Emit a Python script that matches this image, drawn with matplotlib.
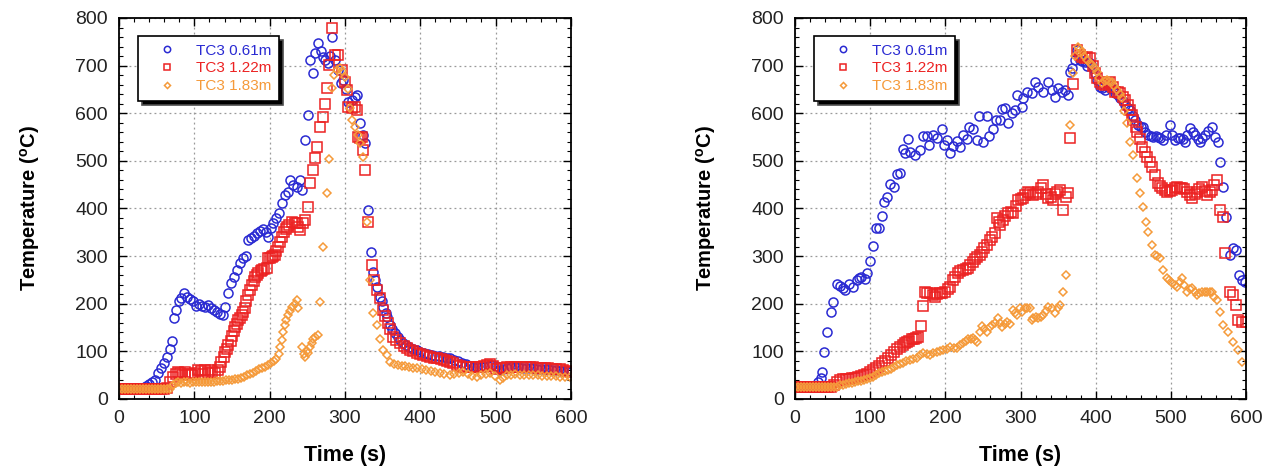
import matplotlib
matplotlib.use('Agg')
import matplotlib.pyplot as plt
from matplotlib.ticker import MultipleLocator

plt.rcParams['font.family'] = ['Liberation Sans', 'DejaVu Sans']

labels = ['TC3 0.61m', 'TC3 1.22m', 'TC3 1.83m']
colors = ['#2a2ad2', '#ec2222', '#f59a3a']
markers = ['o', 's', 'D']

# ---- left test ----
tA1 = [0, 4, 8, 12, 16, 20, 24, 28, 32, 36, 40, 44, 48, 52, 56, 60, 64, 67, 70, 73, 76, 79, 82, 86, 90,
       94, 98, 102, 106, 110, 114, 118, 122, 126, 130, 134, 138, 140, 144, 148, 152, 156, 160, 164, 168,
       171, 175, 179, 183, 187, 191, 195, 198, 202, 205, 209, 212, 216, 220, 224, 227, 231, 236, 240, 243,
       247, 251, 254, 257, 260, 264, 268, 271, 274, 277, 280, 283, 287, 291, 294, 297, 301, 304, 309, 313,
       316, 320, 324, 327, 331, 334, 337, 340, 342, 346, 349, 351, 354, 356, 360, 363, 366, 370, 373, 377,
       381, 385, 390, 395, 400, 405, 410, 415, 420, 425, 430, 435, 440, 445, 450, 455, 460, 465, 470, 475,
       480, 485, 490, 495, 500, 505, 510, 515, 520, 525, 530, 535, 540, 545, 550, 555, 560, 565, 570, 575,
       580, 585, 590, 595, 600]
TA1 = [22, 22, 22, 22, 22, 22, 23, 23, 24, 27, 32, 36, 40, 54, 65, 75, 89, 105, 122, 170, 187, 205, 212, 222, 215,
       210, 205, 195, 200, 196, 193, 198, 191, 187, 182, 178, 176, 193, 222, 243, 257, 271, 285, 296, 300,
       333, 338, 342, 348, 352, 357, 350, 340, 360, 370, 380, 391, 411, 428, 435, 460, 449, 445, 460, 439,
       544, 596, 712, 685, 726, 748, 730, 719, 712, 705, 720, 760, 712, 690, 663, 670, 650, 624, 628, 634,
       638, 580, 554, 538, 397, 309, 267, 250, 235, 214, 205, 193, 180, 172, 155, 146, 138, 130, 124, 118,
       113, 109, 105, 102, 99, 97, 95, 93, 91, 90, 89, 87, 86, 82, 79, 76, 73, 70, 68, 67,
       67, 68, 70, 72, 69, 61, 64, 66, 67, 67, 67, 66, 66, 65, 65, 64, 63, 62, 62, 61,
       60, 59, 58, 58, 57]

tA2 = [0, 4, 8, 12, 16, 20, 24, 28, 32, 36, 40, 44, 48, 52, 56, 60, 64, 68, 72, 75, 78, 81, 84, 88, 91,
       94, 97, 101, 105, 109, 112, 114, 118, 121, 123, 127, 131, 134, 136, 139, 141, 143, 145, 148, 150,
       152, 154, 156, 158, 161, 163, 165, 167, 169, 171, 174, 177, 179, 181, 183, 185, 188, 190, 193, 196,
       198, 201, 203, 205, 207, 209, 211, 214, 216, 219, 221, 223, 226, 230, 233, 236, 238, 240, 244, 247,
       251, 254, 257, 260, 263, 267, 271, 274, 276, 279, 283, 287, 291, 296, 300, 303, 304, 309, 313, 316,
       317, 320, 323, 324, 327, 331, 336, 339, 342, 346, 350, 353, 357, 360, 364, 368, 373, 378, 382, 386,
       390, 395, 400, 404, 409, 413, 418, 422, 427, 431, 435, 439, 444, 448, 452, 457, 461, 466, 470, 475,
       480, 484, 488, 493, 497, 501, 506, 510, 515, 520, 525, 530, 535, 540, 545, 550, 555, 560, 565, 570,
       575, 580, 585, 590, 595, 600]
TA2 = [22, 22, 22, 22, 22, 22, 22, 22, 22, 22, 22, 22, 22, 22, 22, 22, 24, 35, 46, 52, 57, 55, 50, 57, 53,
       52, 50, 55, 61, 58, 52, 61, 55, 60, 57, 55, 60, 67, 78, 88, 99, 106, 113, 122, 132,
       142, 151, 158, 166, 170, 176, 183, 191, 205, 218, 228, 239, 248, 256, 260, 264, 268, 271, 273, 275,
       296, 297, 298, 300, 302, 310, 319, 330, 340, 350, 357, 361, 366, 372, 370, 369, 362, 355, 370, 376,
       403, 453, 480, 506, 529, 571, 592, 620, 653, 701, 779, 722, 722, 691, 665, 649, 613, 610, 613, 607,
       550, 548, 550, 523, 481, 372, 281, 250, 229, 212, 187, 175, 160, 148, 130, 124, 118, 112, 107, 103,
       100, 97, 94, 92, 90, 89, 87, 86, 84, 82, 80, 78, 75, 72, 70, 67, 67, 67, 67, 67,
       68, 70, 72, 73, 70, 63, 65, 66, 67, 67, 67, 67, 67, 67, 67, 67, 66, 66, 65, 65,
       64, 63, 62, 60, 58, 57]

tA3 = [0, 4, 8, 12, 16, 20, 24, 28, 32, 36, 40, 44, 48, 52, 56, 60, 64, 68, 72, 75, 78, 82, 86, 90, 94,
       98, 102, 106, 110, 114, 118, 122, 126, 130, 134, 138, 142, 146, 150, 154, 158, 162, 166, 170, 174,
       178, 182, 186, 190, 194, 198, 202, 206, 209, 212, 214, 216, 218, 220, 222, 224, 227, 230, 233, 236,
       238, 243, 245, 247, 249, 251, 254, 256, 258, 260, 264, 267, 271, 276, 279, 283, 286, 289, 293, 296,
       300, 304, 307, 309, 313, 317, 320, 324, 329, 333, 337, 342, 346, 351, 356, 360, 365, 370, 375, 380,
       385, 390, 396, 402, 408, 414, 420, 426, 432, 439, 445, 451, 457, 463, 469, 475, 481, 487, 493, 499,
       506, 510, 515, 520, 526, 532, 538, 544, 550, 556, 562, 568, 574, 580, 586, 592, 599]
TA3 = [22, 22, 22, 22, 22, 22, 22, 22, 22, 22, 22, 22, 22, 22, 22, 22, 22, 22, 30, 34, 35, 34, 35, 35, 34,
       35, 35, 36, 35, 36, 36, 36, 36, 37, 38, 38, 39, 40, 40, 42, 43, 45, 47, 50, 52,
       55, 58, 62, 65, 68, 71, 75, 80, 85, 95, 110, 124, 140, 155, 166, 176, 185, 193, 200, 208,
       191, 109, 95, 88, 100, 97, 110, 118, 125, 130, 135, 204, 319, 432, 503, 653, 680, 691, 695, 688,
       676, 650, 610, 586, 571, 555, 538, 508, 372, 250, 181, 155, 126, 103, 92, 78, 74, 72, 70, 69,
       67, 66, 65, 63, 61, 58, 57, 55, 53, 50, 52, 55, 57, 52, 48, 46, 50, 53, 55, 48,
       40, 45, 50, 51, 52, 51, 50, 50, 50, 50, 49, 49, 48, 48, 47, 47, 46]

# ---- right test ----
tB1 = [0, 4, 8, 12, 16, 20, 24, 28, 31, 34, 36, 39, 43, 48, 51, 56, 60, 64, 67, 72, 77, 82, 85, 88, 93,
       96, 100, 104, 108, 112, 116, 118, 122, 126, 132, 136, 140, 144, 146, 150, 153, 160, 166, 170, 176,
       178, 184, 189, 196, 198, 202, 206, 210, 216, 220, 223, 229, 231, 237, 242, 245, 250, 255, 258, 263,
       267, 273, 275, 279, 283, 289, 293, 295, 302, 303, 309, 315, 319, 323, 330, 337, 342, 346, 350, 355,
       359, 363, 366, 368, 372, 375, 379, 382, 386, 389, 392, 396, 399, 402, 406, 409, 412, 416, 419, 423,
       426, 429, 432, 436, 439, 443, 446, 449, 452, 456, 460, 463, 466, 470, 473, 476, 480, 483, 486, 490,
       494, 499, 502, 506, 509, 512, 516, 519, 522, 525, 529, 532, 536, 539, 542, 545, 550, 555, 559, 563,
       565, 569, 573, 578, 583, 587, 590, 594, 599]
TB1 = [25, 25, 25, 25, 25, 25, 25, 25, 36, 45, 57, 99, 141, 183, 204, 241, 237, 232, 229, 241, 235, 250, 253, 256, 252,
       265, 290, 321, 359, 359, 384, 414, 424, 451, 445, 472, 475, 525, 516, 546, 519, 512, 523, 552, 552,
       533, 554, 548, 567, 533, 544, 516, 531, 542, 529, 554, 546, 571, 567, 544, 594, 540, 594, 552, 567,
       586, 586, 609, 611, 580, 600, 607, 638, 613, 632, 645, 643, 666, 655, 645, 666, 649, 634, 653, 645,
       649, 638, 687, 695, 712, 733, 712, 710, 708, 700, 705, 695, 685, 670, 655, 652, 649, 655, 659, 650,
       643, 638, 632, 625, 617, 612, 607, 595, 586, 575, 572, 571, 560, 554, 552, 550, 552, 550, 547, 544,
       555, 575, 555, 544, 547, 548, 545, 540, 555, 569, 560, 554, 545, 540, 548, 554, 562, 571, 550, 540,
       498, 445, 382, 302, 317, 313, 260, 250, 246]

tB2 = [0, 4, 8, 12, 16, 20, 24, 28, 32, 36, 40, 44, 48, 52, 56, 60, 64, 68, 72, 76, 80, 84, 88, 92, 96,
       100, 104, 108, 112, 116, 120, 124, 128, 132, 136, 140, 143, 146, 149, 152, 155, 158, 161, 164, 168,
       170, 173, 176, 180, 183, 186, 189, 193, 196, 200, 203, 206, 210, 213, 217, 220, 223, 227, 230, 233,
       237, 240, 242, 246, 249, 252, 255, 259, 262, 266, 269, 271, 273, 277, 280, 283, 287, 290, 294, 297,
       300, 303, 306, 310, 313, 317, 320, 323, 327, 330, 334, 337, 340, 343, 346, 349, 353, 356, 360, 363,
       366, 370, 375, 379, 382, 386, 389, 392, 396, 399, 402, 406, 409, 412, 416, 419, 423, 426, 429, 432,
       436, 439, 443, 446, 448, 450, 453, 455, 459, 462, 465, 468, 472, 475, 479, 483, 486, 488, 492, 495,
       499, 502, 505, 508, 512, 515, 518, 521, 525, 528, 532, 535, 538, 541, 545, 548, 552, 555, 558, 561,
       565, 569, 572, 578, 583, 587, 589, 594, 600]
TB2 = [25, 25, 25, 25, 25, 25, 25, 25, 25, 25, 25, 25, 25, 30, 36, 40, 41, 42, 43, 44, 45, 46, 48, 50, 53,
       57, 61, 65, 70, 75, 80, 86, 92, 98, 104, 109, 114, 118, 120, 122, 125, 127, 128, 130, 153,
       195, 225, 222, 223, 218, 214, 220, 223, 222, 225, 230, 235, 250, 257, 264, 268, 271, 272, 275, 282,
       288, 293, 298, 303, 309, 316, 323, 334, 340, 348, 380, 372, 365, 376, 385, 390, 392, 390, 405, 418,
       420, 422, 428, 435, 432, 428, 430, 435, 442, 449, 430, 422, 425, 418, 430, 435, 439, 397, 425, 433,
       548, 661, 733, 722, 718, 716, 718, 716, 700, 685, 675, 666, 662, 659, 663, 666, 655, 645, 644, 643,
       635, 628, 618, 607, 597, 586, 572, 561, 545, 529, 518, 508, 497, 487, 470, 453, 447, 443, 438, 435,
       437, 439, 442, 445, 444, 443, 440, 435, 428, 422, 430, 435, 440, 445, 436, 428, 435, 439, 450, 460,
       397, 382, 307, 225, 218, 197, 166, 162, 162]

tB3 = [0, 4, 8, 12, 16, 20, 24, 28, 32, 36, 40, 44, 48, 52, 56, 60, 64, 68, 72, 76, 80, 84, 88, 92, 96,
       100, 104, 108, 112, 116, 120, 124, 128, 132, 136, 140, 144, 148, 153, 157, 162, 166, 170, 175, 180,
       184, 189, 193, 197, 202, 206, 211, 216, 220, 223, 227, 230, 234, 237, 240, 242, 246, 249, 252, 255,
       259, 262, 266, 270, 273, 275, 279, 282, 286, 290, 293, 295, 299, 302, 306, 309, 313, 315, 317, 320,
       323, 327, 330, 334, 337, 342, 346, 350, 353, 357, 361, 366, 370, 373, 376, 379, 382, 385, 388, 392,
       395, 399, 402, 405, 408, 412, 415, 418, 422, 425, 428, 432, 435, 438, 442, 446, 450, 455, 459, 463,
       467, 470, 475, 479, 482, 486, 490, 495, 498, 502, 505, 508, 512, 515, 518, 521, 525, 528, 532, 535,
       538, 541, 545, 548, 552, 555, 558, 561, 565, 569, 576, 583, 589, 594]
TB3 = [25, 25, 25, 25, 25, 25, 25, 25, 25, 25, 25, 25, 25, 25, 25, 29, 30, 31, 33, 34, 35, 37, 38, 40, 42,
       44, 47, 50, 54, 56, 58, 60, 63, 67, 71, 74, 76, 79, 82, 84, 86, 92, 97, 94, 92,
       96, 99, 101, 103, 106, 109, 108, 107, 113, 118, 122, 126, 127, 128, 124, 120, 140, 153, 147, 141,
       151, 155, 160, 170, 160, 151, 157, 162, 157, 187, 180, 176, 191, 182, 191, 191, 191, 166, 170, 172,
       170, 173, 176, 185, 193, 191, 181, 190, 197, 225, 260, 575, 685, 720, 739, 735, 729, 720, 712, 705,
       701, 694, 687, 675, 663, 667, 670, 668, 666, 657, 649, 640, 632, 605, 580, 540, 512, 464, 432, 403,
       372, 351, 323, 302, 300, 296, 271, 254, 250, 244, 240, 235, 245, 254, 240, 225, 230, 233, 225, 218,
       222, 225, 225, 225, 225, 225, 215, 208, 183, 155, 141, 120, 103, 78]

fig = plt.figure(figsize=(12.72, 4.71), dpi=100)
ax1 = fig.add_axes([0.0936, 0.1529, 0.3553, 0.8089])
ax2 = fig.add_axes([0.625, 0.1529, 0.3546, 0.8089])

for ax, series in ((ax1, [(tA1, TA1), (tA2, TA2), (tA3, TA3)]),
                   (ax2, [(tB1, TB1), (tB2, TB2), (tB3, TB3)])):
    for (t, T), lab, c, m in zip(series, labels, colors, markers):
        ax.plot(t, T, linestyle='none', marker=m, markerfacecolor='none',
                markeredgecolor=c, markeredgewidth=1.1,
                markersize=6.5 if m != 'D' else 4.4, label=lab)
    ax.set_xlim(0, 600)
    ax.set_ylim(0, 800)
    ax.xaxis.set_major_locator(MultipleLocator(100))
    ax.xaxis.set_minor_locator(MultipleLocator(20))
    ax.yaxis.set_major_locator(MultipleLocator(100))
    ax.yaxis.set_minor_locator(MultipleLocator(20))
    ax.tick_params(which='both', direction='in', top=True, right=True, labelsize=14,
                   labelcolor='#222222', pad=8)
    ax.tick_params(which='major', length=6, width=1.0)
    ax.tick_params(which='minor', length=3, width=0.8)
    ax.grid(True, which='major', linestyle=(0, (1.5, 2.5)), color='#999999', linewidth=0.9)
    for s in ax.spines.values():
        s.set_linewidth(1.3)
    ax.set_xlabel('Time (s)', fontsize=15.5, fontweight='bold', labelpad=13)
    ax.set_ylabel(r'Temperature ($\mathregular{^o}$C)', fontsize=14.5, fontweight='bold', labelpad=24)
    leg = ax.legend(loc='upper left', bbox_to_anchor=(0.042, 0.953), borderaxespad=0,
                    fontsize=11, fancybox=False, edgecolor='black', framealpha=1,
                    markerscale=0.7, handlelength=2.8, handletextpad=0.5,
                    borderpad=0.5, labelspacing=0.25,
                    labelcolor='markeredgecolor',
                    shadow={'ox': 3, 'oy': -3, 'facecolor': 'black', 'alpha': 1})
    leg.get_frame().set_linewidth(1.2)

fig.savefig('out.png', dpi=100)
